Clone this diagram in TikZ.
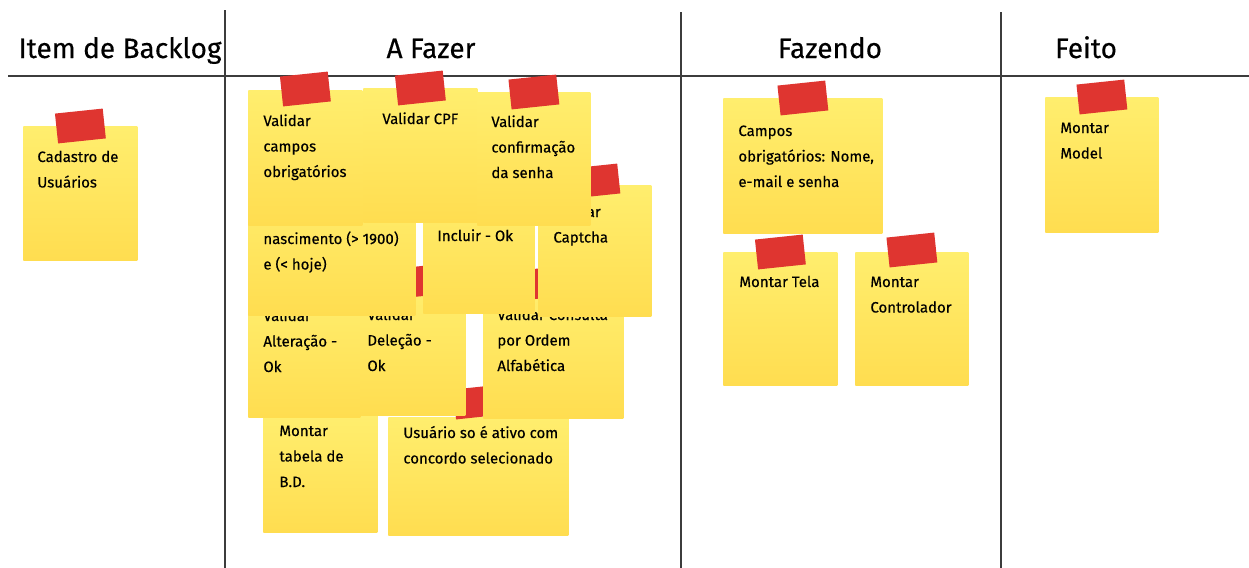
\documentclass[tikz,border=0pt]{standalone}
\usepackage{fontspec}
\setmainfont{Fira Sans}[FakeBold=0.35]
\usetikzlibrary{calc}
\definecolor{noteL}{HTML}{FFEE6E}
\definecolor{noteD}{HTML}{FFDD50}
\definecolor{tapeR}{HTML}{DF3530}
\definecolor{lineC}{HTML}{3C3C3C}
\newcommand\lns[1]{\begin{tabular}[t]{@{}l@{}}#1\end{tabular}}
\newcommand\notefont{\fontsize{7.5}{12.75}\selectfont}
\newcommand\postit[5]{\node[note, minimum width=#4*0.5pt, minimum height=#5*0.5pt] (#1) at (#2,#3) {};}
\newcommand\tapeon[3]{\node[tapebox] (#1) at ($(#2.north)+(0,#3)$) {};}
\begin{document}
\begin{tikzpicture}[x=0.5pt,y=-0.5pt,
  note/.style={anchor=north west, inner sep=0, draw=none, top color=noteL, bottom color=noteD},
  tapebox/.style={fill=tapeR, minimum width=24pt, minimum height=15pt, inner sep=0, rotate=6},
  txt/.style={anchor=base west, inner sep=0, font=\notefont},
  hdr/.style={anchor=base, inner sep=0, font=\fontsize{14}{17}\selectfont},
  board/.style={draw=lineC, line width=1pt}]
\useasboundingbox (0,0) rectangle (1249,568);
\fill[white] (0,0) rectangle (1249,568);
% board lines
\draw[board] (8,76) -- (1249,76);
\draw[board] (225,10) -- (225,568);
\draw[board] (681,12) -- (681,568);
\draw[board] (1001,12) -- (1001,568);
% headers
\node[hdr] (h1) at (120,58) {Item de Backlog};
\node[hdr] (h2) at (431,58) {A Fazer};
\node[hdr] (h3) at (830,58) {Fazendo};
\node[hdr] (h4) at (1086,58) {Feito};
% backlog
\postit{b1}{23}{126}{114}{134}
\tapeon{tb1}{b1}{0}
\node[txt] (xb1) at (37,162) {\lns{Cadastro de\\Usuários}};
% A Fazer, back rows first
\postit{n10}{263}{415}{114}{117}
\node[txt] (x10) at (279,436) {\lns{Montar\\tabela de\\B.D.}};
\postit{n11}{388}{417}{180}{118}
\tapeon{t11}{n11}{-15}
\node[txt] (x11) at (403,438) {\lns{Usuário so é ativo com\\concordo selecionado}};
\postit{n7}{248}{290}{112}{127}
\tapeon{t7}{n7}{-2}
\node[txt] (x7) at (263,321) {\lns{Validar\\Alteração -\\Ok}};
\postit{n8}{360}{285}{105}{130}
\tapeon{t8}{n8}{-3}
\node[txt] (x8) at (367,320) {\lns{Validar\\Deleção -\\Ok}};
\postit{n9}{483}{290}{140}{128}
\tapeon{t9}{n9}{-8}
\node[txt] (x9) at (497,320) {\lns{Validar Consulta\\por Ordem\\Alfabética}};
\postit{n4}{248}{182}{167}{133}
\tapeon{t4}{n4}{0}
\node[txt] (x4) at (263,244) {\lns{nascimento (> 1900)\\e (< hoje)}};
\postit{n5}{423}{185}{111}{128}
\tapeon{t5}{n5}{0}
\node[txt] (x5) at (437,241) {\lns{Incluir - Ok}};
\postit{n6}{538}{185}{113}{131}
\tapeon{t6}{n6}{-4}
\node[txt] (x6) at (553,217) {\lns{Validar\\Captcha}};
\postit{n1}{248}{90}{114}{135}
\tapeon{t1}{n1}{-1}
\node[txt] (x1) at (263,126) {\lns{Validar\\campos\\obrigatórios}};
\postit{n2}{363}{88}{114}{134}
\tapeon{t2}{n2}{0}
\node[txt] (x2) at (382,124) {\lns{Validar CPF}};
\postit{n3}{477}{92}{113}{133}
\tapeon{t3}{n3}{0}
\node[txt] (x3) at (491,127) {\lns{Validar\\confirmação\\da senha}};
% Fazendo
\postit{f1}{723}{98}{159}{135}
\tapeon{tf1}{f1}{0}
\node[txt] (xf1) at (738,136) {\lns{Campos\\obrigatórios: Nome,\\e-mail e senha}};
\postit{f2}{723}{252}{114}{133}
\tapeon{tf2}{f2}{0}
\node[txt] (xf2) at (739,287) {\lns{Montar Tela}};
\postit{f3}{855}{252}{113}{133}
\tapeon{tf3}{f3}{-2}
\node[txt] (xf3) at (870,287) {\lns{Montar\\Controlador}};
% Feito
\postit{d1}{1045}{97}{113}{135}
\tapeon{td1}{d1}{0}
\node[txt] (xd1) at (1060,133) {\lns{Montar\\Model}};
\end{tikzpicture}
\end{document}
